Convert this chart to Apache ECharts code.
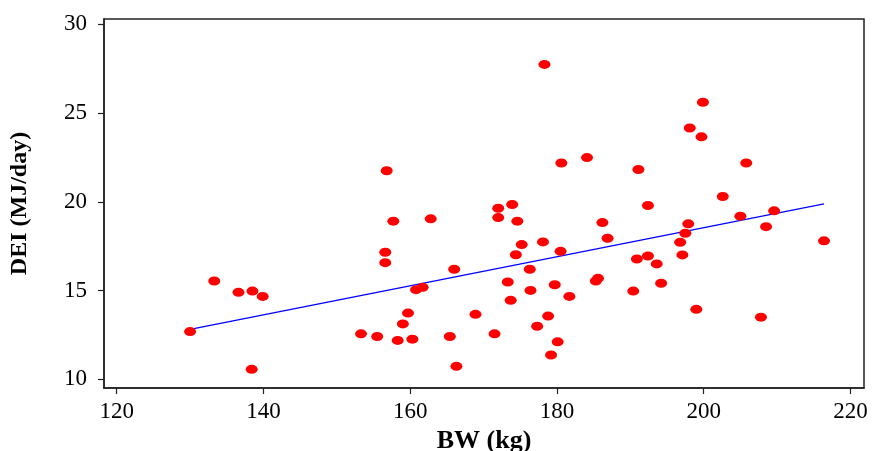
<!DOCTYPE html>
<html>
<head>
<meta charset="utf-8">
<script src="https://cdn.jsdelivr.net/npm/echarts@6/dist/echarts.min.js"></script>
<style>
html,body{margin:0;padding:0;background:#fff;}
#chart{width:873px;height:451px;}
</style>
</head>
<body>
<div id="chart"></div>
<script>
// BW (kg) values
const bw = [
  130.0, 133.3, 136.6, 138.5, 139.9, 138.4,
  178.3, 156.8, 180.6, 184.1, 157.7, 162.8, 172.0, 173.9, 172.0, 174.6,
  156.6, 156.6, 166.0, 175.2, 178.1, 174.4, 180.5, 176.3, 173.3, 176.4,
  179.7, 181.7, 173.7, 160.8, 161.7, 159.7, 159.0, 153.3, 155.5, 158.3,
  160.3, 165.4, 168.9, 171.5, 178.8, 177.3, 180.1, 179.2, 166.3,
  199.9, 198.1, 199.7, 191.1, 205.8, 192.4, 202.6, 186.2, 197.9, 205.0,
  209.6, 208.5,
  186.9, 197.5, 196.8, 216.4, 190.9, 192.4, 193.6, 197.1, 185.3, 185.6,
  190.4, 194.2, 199.0, 207.8
];
// DEI (MJ/day) values
const dei = [
  12.69, 15.54, 14.90, 14.97, 14.67, 10.56,
  27.74, 21.75, 22.19, 22.49, 18.91, 19.04, 19.64, 19.85, 19.11, 18.91,
  17.16, 16.57, 16.20, 17.59, 17.74, 17.02, 17.21, 16.20, 15.48, 15.01,
  15.33, 14.67, 14.45, 15.05, 15.18, 13.73, 13.12, 12.56, 12.41, 12.19,
  12.26, 12.41, 13.66, 12.56, 13.56, 12.99, 12.11, 11.37, 10.73,
  25.61, 24.16, 23.66, 21.82, 22.19, 19.79, 20.30, 18.83, 18.76, 19.19,
  19.49, 18.60,
  17.95, 18.23, 17.72, 17.80, 16.78, 16.95, 16.50, 17.01, 15.54, 15.69,
  14.97, 15.41, 13.94, 13.50
];
// fitted line end points
const fitX = [130.0, 216.4];
const fitY = [12.81, 19.88];
// tick labels
const xTicks = [120, 140, 160, 180, 200, 220];
const yTicks = [10, 15, 20, 25, 30];

const points = bw.map((x, i) => [x, dei[i]]);
const fitLine = fitX.map((x, i) => [x, fitY[i]]);

const serif = '"Liberation Serif", "Times New Roman", serif';
const chart = echarts.init(document.getElementById('chart'), null, {renderer: 'canvas'});
chart.setOption({
  animation: false,
  backgroundColor: '#ffffff',
  grid: {
    left: 104, right: 9, top: 19, bottom: 63,
    containLabel: false,
    outerBoundsMode: 'none',
    show: true, borderColor: '#222', borderWidth: 1.5, backgroundColor: 'transparent'
  },
  xAxis: {
    type: 'value',
    min: 118.27, max: 221.85,
    name: 'BW (kg)',
    nameLocation: 'middle',
    nameGap: 40,
    nameTextStyle: {fontFamily: serif, fontWeight: 'bold', fontSize: 26, color: '#000'},
    axisLine: {show: true, lineStyle: {color: '#222', width: 1.5}},
    axisTick: {show: true, inside: false, length: 6, lineStyle: {color: '#222', width: 1.2}, customValues: xTicks},
    axisLabel: {show: true, margin: 12, fontFamily: serif, fontSize: 23, color: '#000', customValues: xTicks},
    splitLine: {show: false}
  },
  yAxis: {
    type: 'value',
    min: 9.51, max: 30.30,
    name: 'DEI (MJ/day)',
    nameLocation: 'middle',
    nameGap: 72,
    nameRotate: 90,
    nameTextStyle: {fontFamily: serif, fontWeight: 'bold', fontSize: 24, color: '#000'},
    axisLine: {show: true, lineStyle: {color: '#222', width: 1.5}},
    axisTick: {show: true, inside: false, length: 6, lineStyle: {color: '#222', width: 1.2}, customValues: yTicks},
    axisLabel: {show: true, margin: 17, fontFamily: serif, fontSize: 23, color: '#000', customValues: yTicks},
    splitLine: {show: false}
  },
  series: [
    {
      type: 'line',
      data: fitLine,
      showSymbol: false,
      symbol: 'none',
      lineStyle: {color: '#0000ff', width: 1.3},
      z: 1
    },
    {
      type: 'scatter',
      data: points,
      symbol: 'path://M0,5 A5,5 0 1,1 10,5 A5,5 0 1,1 0,5 Z',
      symbolSize: [12, 9],
      itemStyle: {color: '#ff0000', opacity: 1},
      z: 2
    }
  ]
});
</script>
</body>
</html>
